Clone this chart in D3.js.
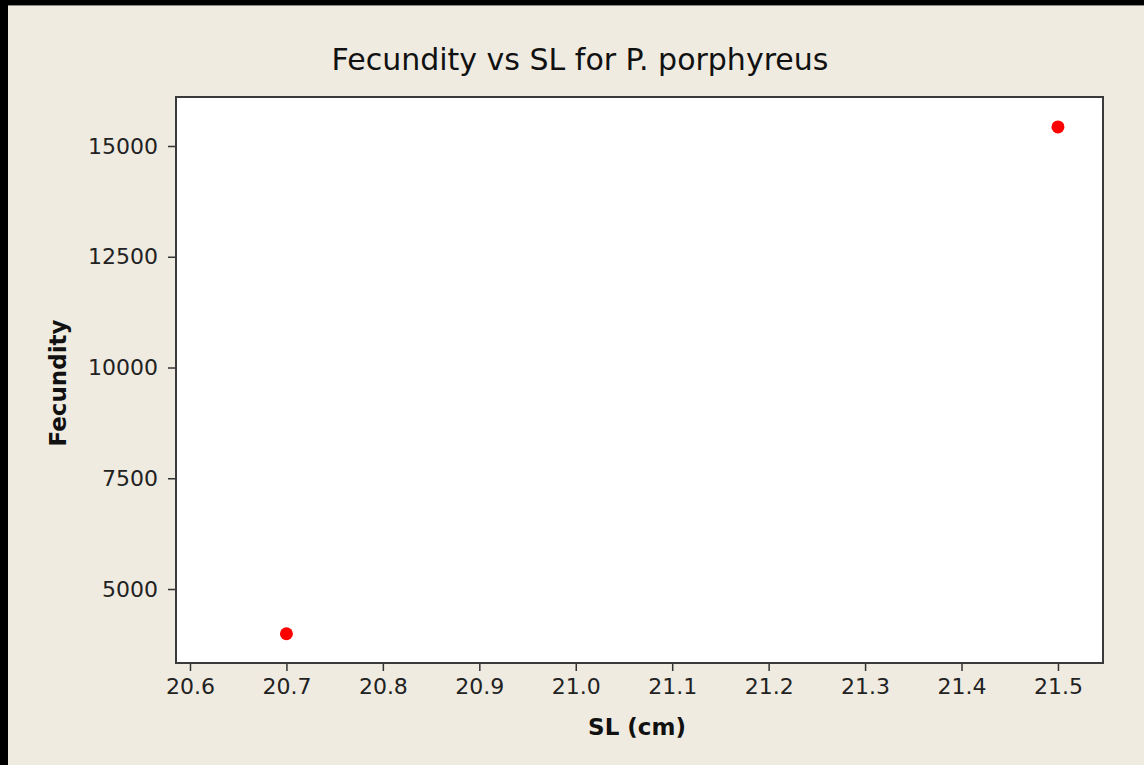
<!DOCTYPE html>
<html>
<title>Fecundity vs SL</title>
<meta charset="UTF-8">
<script type="text/javascript" src="https://d3js.org/d3.v7.min.js"></script>
<style type="text/css">
	body { margin:0; background:#000; }
	svg { display:block; }
	.tick text { font-family: "DejaVu Sans", sans-serif; font-size: 22px; fill: #222; }
	.tick line { stroke: #333; stroke-width: 1.5; }
	.domain { display: none; }
</style>
<body>
<svg id="viz"></svg>
<script type="text/javascript">

	// data
	var slValues = [20.7, 21.5];
	var fecundityValues = [3990, 15430];
	var xTicks = [20.6, 20.7, 20.8, 20.9, 21.0, 21.1, 21.2, 21.3, 21.4, 21.5];
	var yTicks = [5000, 7500, 10000, 12500, 15000];

	var width = 1144, height = 765;
	var plotLeft = 176, plotRight = 1103, plotTop = 97, plotBottom = 663;

	var svg = d3.select("#viz")
		.attr("width", width)
		.attr("height", height);

	// beige panel inside black border
	svg.append("rect")
		.attr("x", 8).attr("y", 5)
		.attr("width", width - 8).attr("height", height - 5)
		.attr("fill", "#efebe1");
	svg.append("line")
		.attr("x1", 8).attr("x2", width).attr("y1", 5.5).attr("y2", 5.5)
		.attr("stroke", "#8a8a88").attr("stroke-width", 1);

	var xScale = d3.scaleLinear()
		.domain([20.5855, 21.5467])
		.range([plotLeft, plotRight]);

	var yScale = d3.scaleLinear()
		.domain([3330, 16106])
		.range([plotBottom, plotTop]);

	svg.append("rect")
		.attr("x", plotLeft).attr("y", plotTop)
		.attr("width", plotRight - plotLeft).attr("height", plotBottom - plotTop)
		.attr("fill", "white")
		.attr("stroke", "#3a3a3a")
		.attr("stroke-width", 2);

	var xAxis = d3.axisBottom(xScale)
		.tickValues(xTicks)
		.tickFormat(d3.format(".1f"))
		.tickSizeInner(7).tickSizeOuter(0).tickPadding(7);
	svg.append("g")
		.attr("transform", "translate(0," + (plotBottom + 1) + ")")
		.call(xAxis);

	var yAxis = d3.axisLeft(yScale)
		.tickValues(yTicks)
		.tickFormat(d3.format("d"))
		.tickSizeInner(7).tickSizeOuter(0).tickPadding(10);
	svg.append("g")
		.attr("transform", "translate(" + (plotLeft - 1) + ",0)")
		.call(yAxis);

	svg.selectAll("circle.pt")
		.data(slValues)
		.enter().append("circle")
		.attr("class", "pt")
		.attr("cx", function(d){ return xScale(d); })
		.attr("cy", function(d, i){ return yScale(fecundityValues[i]); })
		.attr("r", 6.5)
		.attr("fill", "#ff0000");

	svg.append("text")
		.attr("x", 580).attr("y", 70)
		.attr("text-anchor", "middle")
		.style("font-family", "DejaVu Sans, sans-serif")
		.style("font-size", "30px")
		.attr("fill", "#111")
		.text("Fecundity vs SL for P. porphyreus");

	svg.append("text")
		.attr("x", 637).attr("y", 735)
		.attr("text-anchor", "middle")
		.style("font-family", "DejaVu Sans, sans-serif")
		.style("font-size", "23px")
		.style("font-weight", "bold")
		.attr("fill", "#111")
		.text("SL (cm)");

	svg.append("text")
		.attr("transform", "translate(66,383) rotate(-90)")
		.attr("text-anchor", "middle")
		.style("font-family", "DejaVu Sans, sans-serif")
		.style("font-size", "23px")
		.style("font-weight", "bold")
		.attr("fill", "#111")
		.text("Fecundity");

</script>
</body>
</html>
